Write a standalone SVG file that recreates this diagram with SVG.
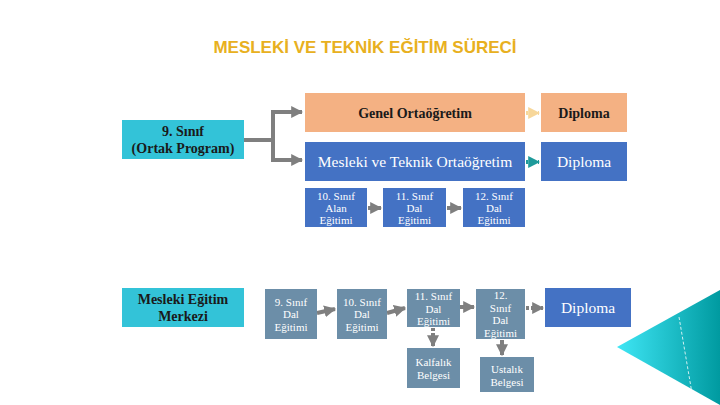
<svg xmlns="http://www.w3.org/2000/svg" width="720" height="405" viewBox="0 0 720 405">
<defs>
<style>
.t{font-family:"Liberation Serif","DejaVu Serif",serif;text-anchor:middle}
.s{font-size:11px}
.dark{fill:#1a1a1a}
.w{fill:#ffffff}
.cyan{fill:#33C3D8}
.peach{fill:#F4B183}
.blue{fill:#4472C4}
.slate{fill:#6C8EA8}
.conn{stroke:#7F7F7F;stroke-width:4;fill:none}
</style>
<marker id="ah" viewBox="0 0 10 10" refX="9" refY="5" markerWidth="3" markerHeight="3" orient="auto" markerUnits="strokeWidth">
<path d="M0,0 L10,5 L0,10 z" fill="#7F7F7F"/>
</marker>
<marker id="ahp" viewBox="0 0 10 10" refX="9" refY="5" markerWidth="3" markerHeight="3" orient="auto" markerUnits="strokeWidth">
<path d="M0,0 L10,5 L0,10 z" fill="#F7D79A"/>
</marker>
<marker id="aht" viewBox="0 0 10 10" refX="9" refY="5" markerWidth="3" markerHeight="3" orient="auto" markerUnits="strokeWidth">
<path d="M0,0 L10,5 L0,10 z" fill="#1E9A9A"/>
</marker>
<linearGradient id="tri" x1="0" y1="0" x2="1" y2="0">
<stop offset="0" stop-color="#3FE6F5"/>
<stop offset="1" stop-color="#009AA0"/>
</linearGradient>
</defs>
<rect width="720" height="405" fill="#ffffff"/>
<text x="365" y="53" style="font-family:'Liberation Sans',sans-serif;font-weight:bold;font-size:17px;text-anchor:middle" fill="#E8B020">MESLEKİ VE TEKNİK EĞİTİM SÜRECİ</text>

<g id="decor">
<polygon points="617,347 720,290 720,405" fill="url(#tri)"/>
<line x1="679" y1="317" x2="694" y2="405" stroke="#ffffff" stroke-width="1" stroke-dasharray="3,2" opacity="0.8"/>
</g>

<g id="connectors">
<path class="conn" d="M244,140 H273 V112 H302" marker-end="url(#ah)"/>
<path class="conn" d="M273,140 V160 H302" marker-end="url(#ah)"/>
<line x1="526" y1="113" x2="539" y2="113" stroke="#F7D79A" stroke-width="4" stroke-dasharray="2,2" marker-end="url(#ahp)"/>
<line x1="526" y1="162" x2="539" y2="162" stroke="#1E9A9A" stroke-width="4" stroke-dasharray="2,2" marker-end="url(#aht)"/>
<line class="conn" x1="368" y1="208" x2="381" y2="208" marker-end="url(#ah)"/>
<line class="conn" x1="447" y1="208" x2="461" y2="208" marker-end="url(#ah)"/>
<line class="conn" x1="317" y1="313" x2="335" y2="309" marker-end="url(#ah)"/>
<line class="conn" x1="387" y1="313" x2="405" y2="308" marker-end="url(#ah)"/>
<line class="conn" x1="460" y1="307" x2="474" y2="307" marker-end="url(#ah)"/>
<line class="conn" x1="526" y1="308" x2="543" y2="308" stroke-dasharray="3,2" marker-end="url(#ah)"/>
<line class="conn" x1="433" y1="328" x2="433" y2="346" stroke-dasharray="3,2" marker-end="url(#ah)"/>
<line class="conn" x1="502" y1="340" x2="502" y2="355" marker-end="url(#ah)"/>
</g>

<g id="n-9sinif">
<rect class="cyan" x="122" y="120" width="122" height="39"/>
<text class="t dark" x="183" y="136" font-size="14" font-weight="bold">9. Sınıf</text>
<text class="t dark" x="183" y="153" font-size="14" font-weight="bold">(Ortak Program)</text>
</g>
<g id="n-genel">
<rect class="peach" x="305" y="93" width="220" height="39"/>
<text class="t dark" x="415" y="118" font-size="14" font-weight="bold">Genel Ortaöğretim</text>
</g>
<g id="n-diploma1">
<rect class="peach" x="541" y="93" width="86" height="39"/>
<text class="t dark" x="584" y="118" font-size="14" font-weight="bold">Diploma</text>
</g>
<g id="n-mto">
<rect class="blue" x="305" y="142" width="220" height="39"/>
<text class="t w" x="415" y="167" font-size="15.5">Mesleki ve Teknik Ortaöğretim</text>
</g>
<g id="n-diploma2">
<rect class="blue" x="541" y="142" width="86" height="39"/>
<text class="t w" x="584" y="167" font-size="15.5">Diploma</text>
</g>
<g id="n-10alan">
<rect class="blue" x="305" y="188" width="62" height="39"/>
<text class="t w s" x="336" y="200">10. Sınıf</text>
<text class="t w s" x="336" y="212">Alan</text>
<text class="t w s" x="336" y="224">Eğitimi</text>
</g>
<g id="n-11dal">
<rect class="blue" x="383" y="188" width="63" height="39"/>
<text class="t w s" x="414.5" y="200">11. Sınıf</text>
<text class="t w s" x="414.5" y="212">Dal</text>
<text class="t w s" x="414.5" y="224">Eğitimi</text>
</g>
<g id="n-12dal">
<rect class="blue" x="463" y="188" width="62" height="39"/>
<text class="t w s" x="494" y="200">12. Sınıf</text>
<text class="t w s" x="494" y="212">Dal</text>
<text class="t w s" x="494" y="224">Eğitimi</text>
</g>
<g id="n-mem">
<rect class="cyan" x="122" y="288" width="122" height="39"/>
<text class="t dark" x="183" y="304" font-size="14" font-weight="bold">Mesleki Eğitim</text>
<text class="t dark" x="183" y="321" font-size="14" font-weight="bold">Merkezi</text>
</g>
<g id="n-m9">
<rect class="slate" x="265" y="289" width="52" height="50"/>
<text class="t w s" x="291" y="306">9. Sınıf</text>
<text class="t w s" x="291" y="318">Dal</text>
<text class="t w s" x="291" y="331">Eğitimi</text>
</g>
<g id="n-m10">
<rect class="slate" x="337" y="289" width="50" height="50"/>
<text class="t w s" x="362" y="306">10. Sınıf</text>
<text class="t w s" x="362" y="318">Dal</text>
<text class="t w s" x="362" y="331">Eğitimi</text>
</g>
<g id="n-m11">
<rect class="slate" x="407" y="289" width="53" height="38"/>
<text class="t w s" x="433.5" y="300">11. Sınıf</text>
<text class="t w s" x="433.5" y="313">Dal</text>
<text class="t w s" x="433.5" y="325">Eğitimi</text>
</g>
<g id="n-m12">
<rect class="slate" x="476" y="289" width="49" height="50"/>
<text class="t w s" x="500.5" y="299">12.</text>
<text class="t w s" x="500.5" y="312">Sınıf</text>
<text class="t w s" x="500.5" y="324">Dal</text>
<text class="t w s" x="500.5" y="337">Eğitimi</text>
</g>
<g id="n-diploma3">
<rect class="blue" x="545" y="288" width="86" height="39"/>
<text class="t w" x="588" y="313" font-size="15.5">Diploma</text>
</g>
<g id="n-kalfalik">
<rect class="slate" x="407" y="348" width="53" height="40"/>
<text class="t w s" x="433.5" y="366">Kalfalık</text>
<text class="t w s" x="433.5" y="379">Belgesi</text>
</g>
<g id="n-ustalik">
<rect class="slate" x="480" y="357" width="54" height="35"/>
<text class="t w s" x="507" y="373">Ustalık</text>
<text class="t w s" x="507" y="386">Belgesi</text>
</g>
</svg>
